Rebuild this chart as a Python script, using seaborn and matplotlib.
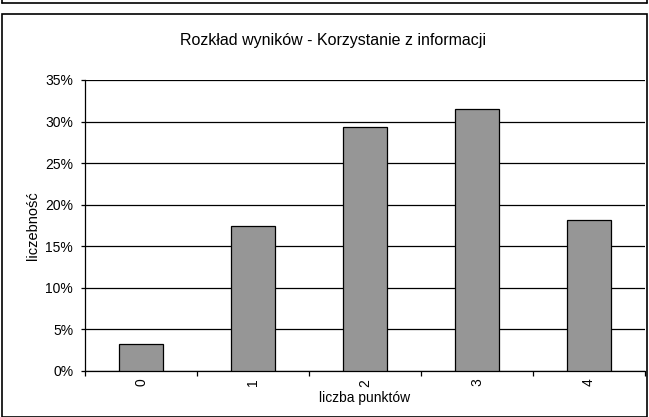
import matplotlib
matplotlib.use("Agg")
import matplotlib.pyplot as plt
import seaborn as sns
import pandas as pd
from matplotlib.patches import Rectangle
from matplotlib.lines import Line2D
from matplotlib.ticker import PercentFormatter, FixedLocator

categories = ["0", "1", "2", "3", "4"]
values = [0.033, 0.174, 0.293, 0.315, 0.182]
title = "Rozkład wyników - Korzystanie z informacji"
xlabel = "liczba punktów"
ylabel = "liczebność"

sns.set_theme(style="white")
plt.rcParams["font.family"] = ["Liberation Sans", "DejaVu Sans"]

df = pd.DataFrame({"cat": categories, "val": values})

W, H = 649, 417
fig = plt.figure(figsize=(W / 100, H / 100), dpi=100)
ax = fig.add_axes([85 / W, (H - 371) / H, (645 - 85) / W, (371 - 80) / H])

sns.barplot(data=df, x="cat", y="val", color="#969696", edgecolor="black",
            linewidth=0.9, width=0.4, saturation=1, ax=ax, zorder=3)

ax.set_ylim(0, 0.35)
ax.set_xlim(-0.5, 4.5)
ax.yaxis.set_major_locator(FixedLocator([i * 0.05 for i in range(8)]))
ax.yaxis.set_major_formatter(PercentFormatter(1.0, decimals=0))
ax.grid(axis="y", color="black", linewidth=0.9, zorder=0)
ax.set_axisbelow(True)

for s in ["top", "right"]:
    ax.spines[s].set_visible(False)
for s in ["left", "bottom"]:
    ax.spines[s].set_color("black")
    ax.spines[s].set_linewidth(0.9)

ax.tick_params(axis="y", which="major", left=True, length=3, width=0.9,
               color="black", labelsize=10, pad=5.5, labelcolor="black")
ax.tick_params(axis="x", which="major", bottom=False, length=0, labelsize=10,
               labelrotation=90, pad=5.5, labelcolor="black")
ax.xaxis.set_minor_locator(FixedLocator([i - 0.5 for i in range(6)]))
ax.tick_params(axis="x", which="minor", bottom=True, length=3.6, width=0.9,
               color="black")

ax.set_xlabel(xlabel, fontsize=10, color="black", labelpad=3)
ax.set_ylabel(ylabel, fontsize=10.5, color="black", labelpad=4)
fig.text(333 / W, 1 - 41 / H, title, ha="center", va="center",
         fontsize=11.5, color="black")

# frames
fig.patches.append(Rectangle((2 / W, 0), 645 / W, (H - 14) / H,
                             transform=fig.transFigure, fill=False,
                             edgecolor="black", linewidth=1.2))
fig.lines.append(Line2D([2 / W, 647 / W], [1 - 3 / H, 1 - 3 / H],
                        transform=fig.transFigure, color="black", linewidth=1.2))
fig.lines.append(Line2D([2 / W, 2 / W], [1, 1 - 3 / H],
                        transform=fig.transFigure, color="black", linewidth=1.2))
fig.lines.append(Line2D([647 / W, 647 / W], [1, 1 - 3 / H],
                        transform=fig.transFigure, color="black", linewidth=1.2))

fig.savefig("out.png", dpi=100)
